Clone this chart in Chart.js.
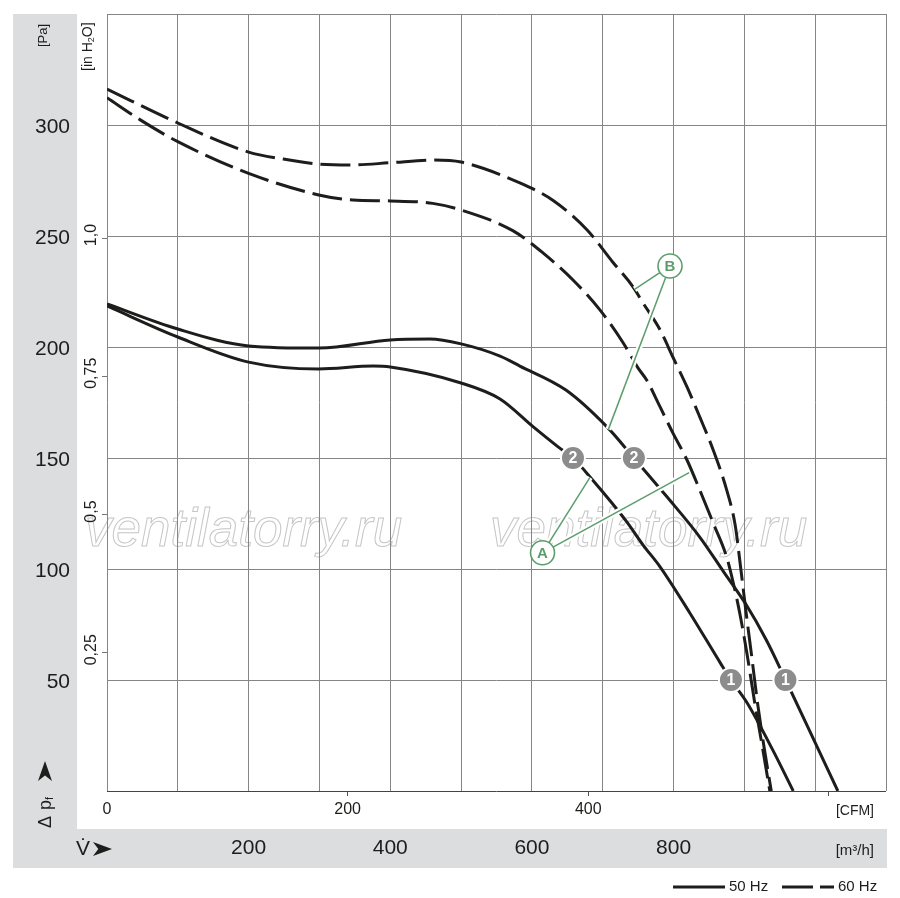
<!DOCTYPE html>
<html>
<head>
<meta charset="utf-8">
<script src="https://cdn.jsdelivr.net/npm/chart.js@4.4.1/dist/chart.umd.min.js"></script>
<style>
html,body{margin:0;padding:0;background:#ffffff;}
canvas{display:block;}
</style>
</head>
<body>
<canvas id="chart" width="900" height="898"></canvas>
<script>
// ---------------- data (flow in m³/h, pressure in Pa) ----------------
// curve B, 50 Hz (upper solid)
const flowB50  = [0, 100, 200, 300, 400, 456, 500, 555, 583, 648, 706, 744, 791, 837, 871, 902, 931, 957, 995, 1032];
const pressB50 = [219.4, 208.1, 200.5, 199.5, 203.2, 203.6, 201.4, 195.9, 191.4, 180.6, 164, 150, 132.4, 114.4, 98.6, 84.2, 68, 50.9, 25.2, 0];
// curve A, 50 Hz (lower solid)
const flowA50  = [0, 100, 200, 299, 376, 400, 500, 555, 602, 637, 658, 686, 713, 734, 757, 781, 823, 866, 881, 904, 940, 969];
const pressA50 = [218.5, 204.5, 193.2, 190.1, 191.4, 191, 183.8, 176.6, 164, 155, 150, 140, 129.7, 121.2, 110.8, 101, 80.2, 57.7, 50, 39.6, 18.5, 0];
// curve B, 60 Hz (upper dashed)
const flowB60  = [0, 100, 200, 248, 299, 347, 400, 460, 500, 583, 630, 678, 714, 743, 757, 781, 799, 819, 837, 856, 875, 887, 895, 902, 911, 919, 928, 938];
const pressB60 = [316.2, 300.9, 287.8, 284.7, 282.4, 282, 283, 284.2, 283.3, 273.9, 266, 252.7, 238.3, 227, 219.8, 207.7, 195.5, 182, 168.5, 153.6, 135.6, 119.8, 100, 81.5, 59, 38.7, 19.4, 0];
// curve A, 60 Hz (lower dashed)
const flowA60  = [0, 47, 100, 200, 299, 347, 400, 460, 500, 573, 616, 658, 696, 729, 750, 762, 781, 799, 819, 837, 856, 875, 885, 894, 904, 914, 925, 936];
const pressA60 = [312.3, 302.3, 292.5, 278.2, 268.5, 266.2, 265.8, 264.7, 261.7, 252.4, 242.3, 230.2, 216.7, 201.8, 190.5, 185.1, 173, 161.3, 149.1, 135.6, 120.7, 105.4, 92.8, 79.3, 61.3, 41, 20.7, 0];

// numbered operating-point markers
const markerLabels = ['2', '2', '1', '1'];
const markerFlow   = [658, 744, 881, 958];
const markerPress  = [150, 150, 50, 50];

// callouts A / B and where their leader lines touch the curves
const calloutLabels = ['A', 'B'];
const calloutFlow   = [615, 795];
const calloutPress  = [107.3, 236.5];
const leaderFrom    = [0, 0, 1, 1];            // index of callout
const leaderFlow    = [682, 822, 708, 745];
const leaderPress   = [141.3, 143.4, 162.9, 226];

// axes
const flowMax = 1100, pressMax = 350;
const flowTickLabels = [200, 400, 600, 800];
const paTickLabels   = [50, 100, 150, 200, 250, 300];
const cfmTicks       = [0, 200, 400, 600];
const cfmTickLabels  = ['0', '200', '400', ''];
const inchTicks      = [0.25, 0.5, 0.75, 1.0];
const inchTickLabels = ['0,25', '0,5', '0,75', '1,0'];
const legendLabels   = ['50 Hz', '60 Hz'];
const M3H_PER_CFM = 1.699, PA_PER_INH2O = 249.089;

// ---------------- styles ----------------
const FONT = "'Liberation Sans Narrow','Arial Narrow','Liberation Sans',Arial,sans-serif";
const INK = '#1d1d1b', GRID = '#858585', BAND = '#dcdddf', GREEN = '#5c9d6c', MGRAY = '#8c8c8c';
const DASH = [30, 8];

function curve(label, xs, ys, dash) {
  return {
    label, data: xs.map((x, i) => ({x, y: ys[i]})), showLine: true,
    borderColor: INK, borderWidth: 3, borderDash: dash, borderCapStyle: 'butt',
    pointRadius: 0, cubicInterpolationMode: 'monotone', fill: false, order: 5
  };
}
const datasets = [
  curve('50 Hz B', flowB50, pressB50, []),
  curve('50 Hz A', flowA50, pressA50, []),
  curve('60 Hz B', flowB60, pressB60, DASH),
  curve('60 Hz A', flowA60, pressA60, DASH),
];
leaderFlow.forEach((fx, i) => {
  const c = leaderFrom[i];
  const pts = [{x: calloutFlow[c], y: calloutPress[c]}, {x: fx, y: leaderPress[i]}];
  datasets.push({label: 'halo', data: pts, showLine: true, borderColor: '#ffffff', borderWidth: 6, pointRadius: 0, order: 4});
  datasets.push({label: 'leader', data: pts, showLine: true, borderColor: GREEN, borderWidth: 1.5, pointRadius: 0, order: 3});
});
datasets.push({label: 'markers', data: markerFlow.map((x, i) => ({x, y: markerPress[i]})),
  pointRadius: 12, pointBackgroundColor: MGRAY, pointBorderColor: '#ffffff', pointBorderWidth: 2, order: 1});
datasets.push({label: 'callouts', data: calloutFlow.map((x, i) => ({x, y: calloutPress[i]})),
  pointRadius: 12, pointBackgroundColor: '#ffffff', pointBorderColor: GREEN, pointBorderWidth: 1.6, order: 1});
const MARKER_SET = datasets.length - 2, CALLOUT_SET = datasets.length - 1;

function fixSize(prop, val) {
  return s => { s[prop] = val; s.paddingTop = 0; s.paddingBottom = 0; s.paddingLeft = 0; s.paddingRight = 0; };
}

function arrow(c, x, y, len, half, angle) {
  c.save(); c.translate(x, y); c.rotate(angle);
  c.beginPath(); c.moveTo(0, -half); c.lineTo(len, 0); c.lineTo(0, half); c.lineTo(len * 0.28, 0); c.closePath();
  c.fill(); c.restore();
}

const decor = {
  id: 'decor',
  beforeDraw(chart) {
    const c = chart.ctx, a = chart.chartArea;
    c.save(); c.fillStyle = BAND;
    c.fillRect(13, a.top, 64, 829 - a.top);
    c.fillRect(13, 829, a.right + 1 - 13, 39);
    // faint outlined watermark, under grid and curves
    c.font = "italic 53px 'Liberation Sans',Arial,sans-serif";
    c.textBaseline = 'alphabetic'; c.textAlign = 'left';
    c.strokeStyle = '#c6c6c6'; c.lineWidth = 1;
    for (const x0 of [85, 490]) c.strokeText('ventilatorry.ru', x0, 546);
    c.restore();
  },
  afterDatasetsDraw(chart) {
    const c = chart.ctx;
    c.save(); c.textAlign = 'center'; c.textBaseline = 'middle';
    c.font = 'bold 16px ' + FONT; c.fillStyle = '#ffffff';
    chart.getDatasetMeta(MARKER_SET).data.forEach((p, i) => c.fillText(markerLabels[i], p.x, p.y + 1));
    c.font = 'bold 15px ' + FONT; c.fillStyle = GREEN;
    chart.getDatasetMeta(CALLOUT_SET).data.forEach((p, i) => c.fillText(calloutLabels[i], p.x, p.y + 1));
    c.restore();
  },
  afterDraw(chart) {
    const c = chart.ctx;
    c.save();
    c.fillStyle = INK; c.strokeStyle = INK;
    // unit labels of the vertical axes (rotated)
    c.textBaseline = 'middle'; c.textAlign = 'left';
    c.save(); c.translate(43, 47); c.rotate(-Math.PI / 2);
    c.font = '13px ' + FONT; c.fillText('[Pa]', 0, 0); c.restore();
    c.save(); c.translate(88, 71); c.rotate(-Math.PI / 2);
    c.font = '14px ' + FONT;
    let x = 0; c.fillText('[in H', x, 0); x += c.measureText('[in H').width;
    c.font = '9px ' + FONT; c.fillText('2', x, 4); x += c.measureText('2').width;
    c.font = '14px ' + FONT; c.fillText('O]', x, 0);
    c.restore();
    // Δ p_f ➤
    c.save(); c.translate(46, 828); c.rotate(-Math.PI / 2);
    c.font = '18px ' + FONT;
    x = 0; c.fillText('Δ', x, 0); x += c.measureText('Δ').width + 6;
    c.fillText('p', x, 0); x += c.measureText('p').width;
    c.font = '11px ' + FONT; c.fillText('f', x, 4);
    c.restore();
    arrow(c, 45, 781, 20, 7, -Math.PI / 2);
    // V̇ ➤
    c.font = '21px ' + FONT; c.textAlign = 'left';
    c.fillText('V\u0307', 76, 849);
    arrow(c, 93, 849, 19, 7, 0);
    // unit labels of the horizontal axes
    c.textAlign = 'right';
    c.font = '14px ' + FONT;
    c.fillText('[CFM]', 874, 811);
    c.font = '15px ' + FONT;
    c.fillText('[m\u00B3/h]', 874, 851);
    // legend
    c.lineWidth = 3;
    c.beginPath(); c.moveTo(673, 887); c.lineTo(725, 887); c.stroke();
    c.setLineDash([31, 7]);
    c.beginPath(); c.moveTo(782, 887); c.lineTo(834, 887); c.stroke();
    c.setLineDash([]);
    c.textAlign = 'left'; c.font = '15px ' + FONT;
    c.fillText(legendLabels[0], 729, 887);
    c.fillText(legendLabels[1], 838, 887);
    c.restore();
  }
};

new Chart(document.getElementById('chart'), {
  type: 'scatter',
  data: {datasets},
  plugins: [decor],
  options: {
    responsive: false, animation: false, devicePixelRatio: 1, events: [],
    layout: {padding: {left: 0, right: 14, top: 14, bottom: 30}},
    plugins: {legend: {display: false}, tooltip: {enabled: false}},
    scales: {
      x: {
        type: 'linear', position: 'bottom', weight: 1, min: 0, max: flowMax,
        afterFit: fixSize('height', 40),
        border: {display: false},
        grid: {color: GRID, lineWidth: 1, drawTicks: false},
        ticks: {stepSize: 100, autoSkip: false, maxRotation: 0, padding: 8, color: INK,
          font: {family: FONT, size: 21},
          callback: v => flowTickLabels.includes(v) ? String(v) : ''}
      },
      xc: {
        type: 'linear', position: 'bottom', weight: 0, min: 0, max: flowMax / M3H_PER_CFM,
        afterFit: fixSize('height', 37),
        afterBuildTicks: s => { s.ticks = cfmTicks.map(v => ({value: v})); },
        border: {display: false},
        grid: {drawOnChartArea: false, drawTicks: true, tickLength: 5, lineWidth: 1,
          color: ctx => (ctx.tick && ctx.tick.value === 0) ? 'rgba(0,0,0,0)' : '#555555'},
        ticks: {autoSkip: false, maxRotation: 0, padding: 4, color: INK,
          font: {family: FONT, size: 16},
          callback: (v, i) => cfmTickLabels[i]}
      },
      y: {
        type: 'linear', position: 'left', weight: 1, min: 0, max: pressMax,
        afterFit: fixSize('width', 70),
        border: {display: false},
        grid: {drawTicks: false,
          color: ctx => (ctx.tick && ctx.tick.value === 0) ? '#444444' : GRID,
          lineWidth: 1},
        ticks: {stepSize: 50, autoSkip: false, padding: 0, labelOffset: 2, color: INK,
          font: {family: FONT, size: 21},
          callback: v => paTickLabels.includes(v) ? String(v) : ''}
      },
      yi: {
        type: 'linear', position: 'left', weight: 0, min: 0, max: pressMax / PA_PER_INH2O,
        afterFit: fixSize('width', 37),
        afterBuildTicks: s => { s.ticks = inchTicks.map(v => ({value: v})); },
        border: {display: false},
        grid: {drawOnChartArea: false, drawTicks: true, tickLength: 5, color: '#777777', lineWidth: 1},
        ticks: {autoSkip: false, minRotation: 90, maxRotation: 90, crossAlign: 'center', padding: -5,
          labelOffset: -3, color: INK, font: {family: FONT, size: 16},
          callback: (v, i) => inchTickLabels[i]}
      }
    }
  }
});
</script>
</body>
</html>
